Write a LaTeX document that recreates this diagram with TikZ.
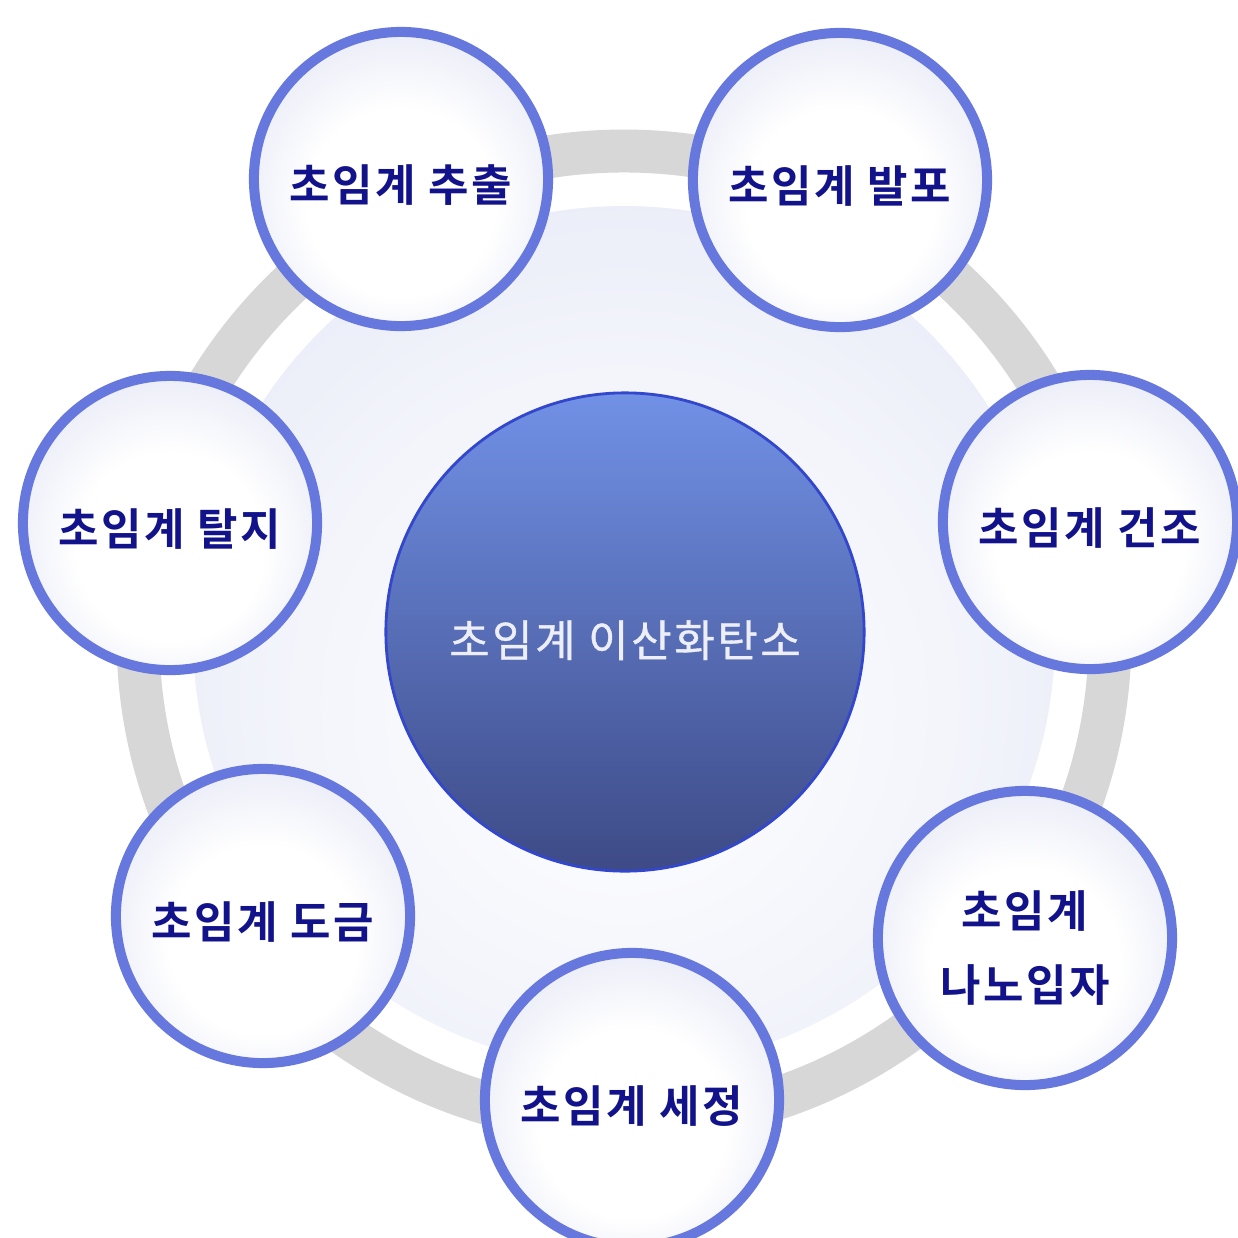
\documentclass[tikz,border=0pt]{standalone}
\usepackage{fontspec}
\newfontfamily\krfont[BoldFont={Noto Sans CJK KR Bold}, LetterSpace=6]{Noto Sans CJK KR}
\newfontfamily\krhub[FakeBold=0.8, LetterSpace=6]{Noto Sans CJK KR}

\definecolor{ringgray}{HTML}{D7D7D7}
\definecolor{discedge}{HTML}{D6DBF1}
\definecolor{satborder}{HTML}{6677DD}
\definecolor{satedge}{HTML}{D4D8EF}
\definecolor{hubtop}{HTML}{7191E6}
\definecolor{hubbottom}{HTML}{3D4A86}
\definecolor{hubborder}{HTML}{3347CC}
\definecolor{labelnavy}{HTML}{12128A}
\definecolor{hubtext}{HTML}{EEEFF6}

\pgfdeclareradialshading{satglow}{\pgfpoint{0bp}{-6bp}}{color(0bp)=(white); color(16bp)=(white); color(42bp)=(satedge); color(50bp)=(satedge)}
\pgfdeclareradialshading{discglow}{\pgfpoint{0bp}{-6bp}}{color(0bp)=(white); color(20bp)=(white!70!discedge); color(50bp)=(discedge)}

\begin{document}
\begin{tikzpicture}[x=0.01cm, y=-0.01cm,
    satellite/.style={circle, draw=satborder, line width=2.85pt, shading=satglow,
        minimum size=2.94cm, inner sep=0pt, align=center, text=labelnavy,
        text height=14.4pt, text depth=1.5pt,
        font=\krfont\bfseries\fontsize{12.5}{21}\selectfont},
    hub/.style={circle, draw=hubborder, line width=0.8pt, top color=hubtop,
        bottom color=hubbottom, minimum size=4.78cm, inner sep=0pt, text=hubtext,
        text height=15.5pt, text depth=1.5pt,
        font=\krhub\fontsize{12.5}{15}\selectfont}]
    \useasboundingbox[fill=white] (0,0) rectangle (1238,1238);
    % ring and disc behind
    \draw[ringgray, line width=12.2pt] (624,637) circle[radius=486];
    \shade[shading=discglow] (624,637) circle[radius=431];
    \node[hub] (co2) at (625,632) {초임계 이산화탄소};
    % processes
    \node[satellite] (extract) at (401,179) {초임계 추출};
    \node[satellite] (foam) at (840,180) {초임계 발포};
    \node[satellite] (degrease) at (170,523) {초임계 탈지};
    \node[satellite] (dry) at (1090,522) {초임계 건조};
    \node[satellite] (plate) at (263,916) {초임계 도금};
    \node[satellite, text height=37.7pt] (nano) at (1025,938) {초임계\\나노입자};
    \node[satellite] (clean) at (632,1100) {초임계 세정};
\end{tikzpicture}
\end{document}
